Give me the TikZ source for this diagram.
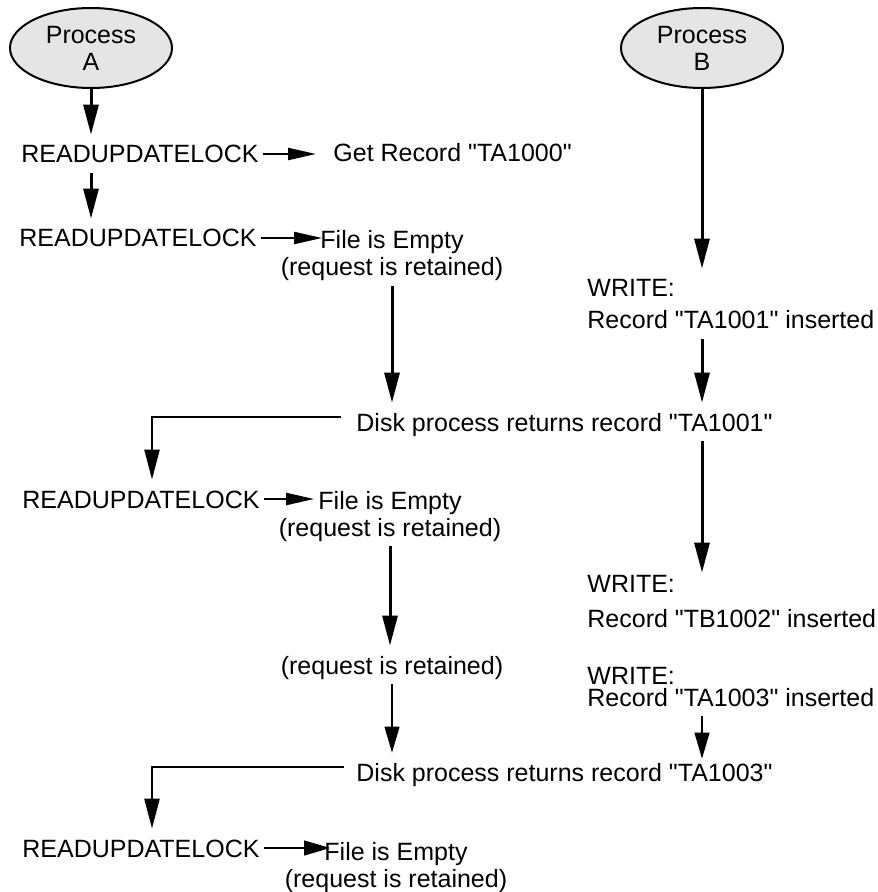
\documentclass[tikz,border=0pt]{standalone}
\usepackage{fontspec}
\setmainfont{Liberation Sans}
\usetikzlibrary{shapes.geometric, arrows.meta, positioning}

\newcommand{\qt}{\textquotedbl}

\begin{document}
\begin{tikzpicture}[x=0.5pt, y=-0.5pt, font=\fontsize{12.5pt}{13.5pt}\selectfont]
  \tikzstyle{proc} = [ellipse, draw=black, line width=1pt, fill=gray!20, minimum width=81pt, minimum height=40pt, inner sep=0pt, align=center]
  \tikzstyle{txt} = [inner xsep=2pt, inner ysep=5pt, text height=9pt, text depth=0pt]
  \tikzstyle{arrow} = [draw, line width=1.5pt, -{Triangle[length=15pt, width=7.5pt]}]
  \tikzstyle{thinarrow} = [draw, line width=0.6pt, -{Triangle[length=13pt, width=7.5pt]}]
  \tikzstyle{sidearrow} = [draw, line width=1.1pt, -{Triangle[length=14pt, width=6pt]}]
  \tikzstyle{turn} = [draw, line width=1.2pt, -{Triangle[length=15pt, width=7.5pt]}]

  \useasboundingbox (0,0) rectangle (877,892);

  \node (pa) [proc] at (91,48) {Process\\A};
  \node (pb) [proc] at (702,48) {Process\\B};

  \node (rul1) [txt, anchor=base west] at (17,163) {READUPDATELOCK};
  \node (get) [txt, anchor=base west] at (329,162) {Get Record \qt TA1000\qt};
  \node (rul2) [txt, anchor=base west] at (15,247) {READUPDATELOCK};
  \node (fe1) [txt, anchor=base] at (392,249) {File is Empty};
  \node (req1) [txt, below=13.5pt of fe1.base, anchor=base] {(request is retained)};

  \node (wr1) [txt, anchor=base west] at (583,297) {WRITE:};
  \node (rec1) [txt, below=16pt of wr1.base west, anchor=base west] {Record \qt TA1001\qt{} inserted};

  \node (disk1) [txt, anchor=base west] at (352,431) {Disk process returns record \qt TA1001\qt};
  \node (rul3) [txt, anchor=base west] at (18,508) {READUPDATELOCK};
  \node (fe2) [txt, anchor=base] at (390,509) {File is Empty};
  \node (req2) [txt, below=13.5pt of fe2.base, anchor=base] {(request is retained)};

  \node (wr2) [txt, anchor=base west] at (583,592) {WRITE:};
  \node (rec2) [txt, below=17.5pt of wr2.base west, anchor=base west] {Record \qt TB1002\qt{} inserted};

  \node (ret) [txt, anchor=base] at (392,674) {(request is retained)};
  \node (wr3) [txt, anchor=base west] at (583,684) {WRITE:};
  \node (rec3) [txt, below=11pt of wr3.base west, anchor=base west] {Record \qt TA1003\qt{} inserted};

  \node (disk2) [txt, anchor=base west] at (352,781) {Disk process returns record \qt TA1003\qt};
  \node (rul4) [txt, anchor=base west] at (18,857) {READUPDATELOCK};
  \node (fe3) [txt, anchor=base] at (396,860) {File is Empty};
  \node (req3) [txt, below=13.5pt of fe3.base, anchor=base] {(request is retained)};

  \draw [arrow] (pa.south) -- (pa.south |- rul1.north);
  \draw [arrow] (rul1.south -| pa) -- (rul2.north -| pa);
  \draw [arrow] (req1.south) -- (req1.south |- disk1.north);
  \draw [turn, shorten <=5.5pt] ([yshift=2.5pt]disk1.west) -| ([xshift=67pt]rul3.north west);
  \draw [arrow] (req2.south) -- (req2.south |- ret.north);
  \draw [thinarrow] (ret.south) -- (ret.south |- disk2.north);
  \draw [turn, shorten <=4pt] ([yshift=2.5pt]disk2.west) -| ([xshift=67pt]rul4.north west);

  \draw [arrow] (pb.south) -- (pb.south |- wr1.north);
  \draw [arrow] (rec1.south -| pb) -- (disk1.north -| pb);
  \draw [arrow, shorten >=-4.5pt] (disk1.south -| pb) -- (wr2.north -| pb);
  \draw [thinarrow, shorten >=-3pt] (rec3.south -| pb) -- (disk2.north -| pb);

  \draw [sidearrow, shorten >=6.5pt] (rul1.east) -- (rul1.east -| get.west);
  \draw [sidearrow, shorten >=-3pt] (rul2.east) -- (rul2.east -| fe1.west);
  \draw [sidearrow] (rul3.east) -- (rul3.east -| fe2.west);
  \draw [thinarrow, shorten >=-5pt] (rul4.east) -- (rul4.east -| fe3.west);
\end{tikzpicture}
\end{document}
